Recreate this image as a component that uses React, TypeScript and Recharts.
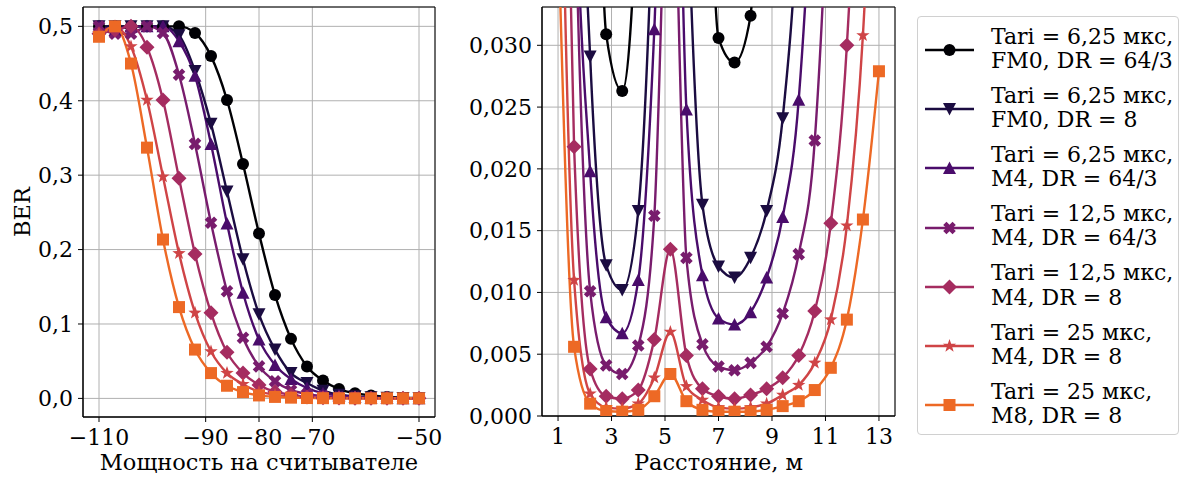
import React from "react";
import {
  LineChart,
  Line,
  XAxis,
  YAxis,
  CartesianGrid,
  ReferenceArea
} from "recharts";

const FONT = "'DejaVu Serif', serif";

// series: legend text, colour (inferno), marker
const seriesLabels = [
  ["Tari = 6,25 мкс,", "FM0, DR = 64/3"],
  ["Tari = 6,25 мкс,", "FM0, DR = 8"],
  ["Tari = 6,25 мкс,", "M4, DR = 64/3"],
  ["Tari = 12,5 мкс,", "M4, DR = 64/3"],
  ["Tari = 12,5 мкс,", "M4, DR = 8"],
  ["Tari = 25 мкс,", "M4, DR = 8"],
  ["Tari = 25 мкс,", "M8, DR = 8"]
];
const seriesColors = ["#000004", "#1b0c41", "#4a0c6b", "#781c6d", "#a52c60", "#cf4446", "#ed6925"];
const seriesMarkers = ["circle", "triDown", "triUp", "cross", "diamond", "star", "square"];
const seriesKeys = ["s1", "s2", "s3", "s4", "s5", "s6", "s7"];

// left panel: BER vs reader power
const powerDbm = [-110, -107, -104, -101, -98, -95, -92, -89, -86, -83, -80, -77, -74, -71, -68, -65, -62, -59, -56, -53, -50];
const berPowS1 = [0.5, 0.5, 0.5, 0.5, 0.5, 0.5, 0.491, 0.46, 0.401, 0.315, 0.2215, 0.139, 0.08, 0.043, 0.024, 0.0126, 0.007, 0.004, 0.002, 0.001, 0.0005];
const berPowS2 = [0.5, 0.5, 0.5, 0.5, 0.5, 0.488, 0.44, 0.369, 0.278, 0.187, 0.113, 0.0656, 0.034, 0.0207, 0.0104, 0.005, 0.003, 0.0015, 0.001, 0.0005, 0.0003];
const berPowS3 = [0.5, 0.495, 0.5, 0.5, 0.5, 0.48, 0.4335, 0.342, 0.235, 0.142, 0.079, 0.045, 0.026, 0.014, 0.007, 0.004, 0.002, 0.001, 0.0005, 0.0003, 0.0002];
const berPowS4 = [0.5, 0.49, 0.49, 0.5, 0.491, 0.435, 0.342, 0.236, 0.144, 0.0814, 0.043, 0.023, 0.011, 0.006, 0.003, 0.0015, 0.001, 0.0005, 0.0003, 0.0002, 0.0001];
const berPowS5 = [0.49, 0.495, 0.5, 0.472, 0.401, 0.296, 0.194, 0.115, 0.062, 0.034, 0.018, 0.009, 0.005, 0.002, 0.001, 0.0005, 0.0003, 0.0002, 0.0001, 0.0001, 0.0001];
const berPowS6 = [0.49, 0.5, 0.473, 0.401, 0.298, 0.195, 0.115, 0.063, 0.034, 0.019, 0.009, 0.005, 0.002, 0.001, 0.0005, 0.0003, 0.0002, 0.0001, 0.0001, 0.0001, 0.0001];
const berPowS7 = [0.486, 0.5, 0.45, 0.337, 0.2135, 0.1227, 0.0656, 0.034, 0.017, 0.0085, 0.004, 0.002, 0.001, 0.0005, 0.0003, 0.0002, 0.0001, 0.0001, 0.0001, 0.0001, 0.0001];
const powerTicks = [-110, -90, -80, -70, -50];
const berTicks = [0, 0.1, 0.2, 0.3, 0.4, 0.5];

// right panel: BER vs distance
const distanceM = [1, 1.6, 2.2, 2.8, 3.4, 4, 4.6, 5.2, 5.8, 6.4, 7, 7.6, 8.2, 8.8, 9.4, 10, 10.6, 11.2, 11.8, 12.4, 13];
const berDistS1 = [0.3, 0.2, 0.09, 0.0309, 0.0263, 0.045, 0.12, 0.2, 0.12, 0.07, 0.0306, 0.0286, 0.0324, 0.08, 0.12, 0.2, 0.3, 0.4, 0.5, 0.6, 0.7];
const berDistS2 = [0.2, 0.07, 0.0291, 0.0122, 0.0102, 0.0166, 0.045, 0.1, 0.045, 0.0171, 0.0121, 0.0112, 0.0128, 0.0166, 0.0241, 0.042, 0.08, 0.15, 0.25, 0.35, 0.45];
const berDistS3 = [0.15, 0.05, 0.0198, 0.008, 0.0067, 0.011, 0.0313, 0.07, 0.0248, 0.0114, 0.0079, 0.0074, 0.0084, 0.0112, 0.0161, 0.0256, 0.05, 0.1, 0.2, 0.3, 0.4];
const berDistS4 = [0.12, 0.045, 0.0101, 0.0041, 0.0034, 0.0057, 0.0162, 0.05, 0.0128, 0.0058, 0.004, 0.0037, 0.0043, 0.0056, 0.0083, 0.0131, 0.0223, 0.05, 0.1, 0.2, 0.3];
const berDistS5 = [0.08, 0.0218, 0.0038, 0.0016, 0.0014, 0.0021, 0.0062, 0.0135, 0.0049, 0.0022, 0.0016, 0.0014, 0.0017, 0.0022, 0.0031, 0.0049, 0.0085, 0.0156, 0.03, 0.06, 0.12];
const berDistS6 = [0.06, 0.011, 0.0018, 0.0007, 0.0006, 0.001, 0.0031, 0.0068, 0.0024, 0.0013, 0.0007, 0.0006, 0.0007, 0.001, 0.0017, 0.0025, 0.0043, 0.0078, 0.0154, 0.0308, 0.06];
const berDistS7 = [0.04, 0.0056, 0.001, 0.0004, 0.00035, 0.0005, 0.0016, 0.0034, 0.0012, 0.0005, 0.00035, 0.00035, 0.00035, 0.0005, 0.0008, 0.0012, 0.0021, 0.0039, 0.0078, 0.0159, 0.0279];
const distTicks = [1, 3, 5, 7, 9, 11, 13];
const berDistTicks = [0, 0.005, 0.01, 0.015, 0.02, 0.025, 0.03];

const powSeries = [berPowS1, berPowS2, berPowS3, berPowS4, berPowS5, berPowS6, berPowS7];
const distSeries = [berDistS1, berDistS2, berDistS3, berDistS4, berDistS5, berDistS6, berDistS7];

const powerTable = powerDbm.map((x, i) => {
  const row: any = { x };
  seriesKeys.forEach((k, j) => (row[k] = powSeries[j][i]));
  return row;
});
const distTable = distanceM.map((x, i) => {
  const row: any = { x };
  seriesKeys.forEach((k, j) => (row[k] = distSeries[j][i]));
  return row;
});

function Marker({ shape, cx, cy, color }: any) {
  if (cx == null || cy == null) return null;
  if (shape === "circle") return <circle cx={cx} cy={cy} r={6} fill={color} />;
  if (shape === "square") return <rect x={cx - 6} y={cy - 6} width={12} height={12} fill={color} />;
  if (shape === "diamond")
    return <polygon points={`${cx - 7.5},${cy} ${cx},${cy - 7.5} ${cx + 7.5},${cy} ${cx},${cy + 7.5}`} fill={color} />;
  if (shape === "triDown")
    return <polygon points={`${cx - 6.5},${cy - 6} ${cx + 6.5},${cy - 6} ${cx},${cy + 6.5}`} fill={color} />;
  if (shape === "triUp")
    return <polygon points={`${cx - 6.5},${cy + 6} ${cx + 6.5},${cy + 6} ${cx},${cy - 6.5}`} fill={color} />;
  if (shape === "star") {
    const pts: string[] = [];
    for (let i = 0; i < 10; i++) {
      const r = i % 2 === 0 ? 7 : 2.8;
      const a = -Math.PI / 2 + (i * Math.PI) / 5;
      pts.push(`${cx + r * Math.cos(a)},${cy + r * Math.sin(a)}`);
    }
    return <polygon points={pts.join(" ")} fill={color} />;
  }
  // filled "X"
  const s = 6.6;
  const a = 2.3;
  const base = [
    [-a, -s], [a, -s], [a, -a], [s, -a], [s, a], [a, a],
    [a, s], [-a, s], [-a, a], [-s, a], [-s, -a], [-a, -a]
  ];
  const c = Math.SQRT1_2;
  const pts = base.map(([px, py]) => `${cx + (px - py) * c},${cy + (px + py) * c}`);
  return <polygon points={pts.join(" ")} fill={color} />;
}

const tickStyle = { fill: "#000", fontSize: 22, fontFamily: FONT };
const labelStyle = { fill: "#000", fontSize: 22.5, fontFamily: FONT };

const comma = (digits: number) => (v: number) => v.toFixed(digits).replace(".", ",");
const minus = (v: number) => String(v).replace("-", "\u2212");

function seriesLines() {
  return seriesKeys.map((k, j) => (
    <Line
      key={k}
      dataKey={k}
      type="monotone"
      stroke={seriesColors[j]}
      strokeWidth={2.4}
      isAnimationActive={false}
      activeDot={false}
      dot={(p: any) => (
        <Marker key={`${k}-${p.index}`} shape={seriesMarkers[j]} cx={p.cx} cy={p.cy} color={seriesColors[j]} />
      )}
    />
  ));
}

function Legend() {
  return (
    <div
      style={{
        position: "absolute",
        left: 917,
        top: 16,
        width: 260,
        height: 417,
        border: "1px solid #d0d0d0",
        borderRadius: 4,
        background: "#fff"
      }}
    >
      {seriesLabels.map((lines, i) => {
        const cy = 33 + i * 59.2;
        return (
          <div key={i}>
            <svg style={{ position: "absolute", left: 6, top: cy - 10 }} width={52} height={20}>
              <line x1={1} y1={10} x2={50} y2={10} stroke={seriesColors[i]} strokeWidth={2.4} />
              <Marker shape={seriesMarkers[i]} cx={25.5} cy={10} color={seriesColors[i]} />
            </svg>
            <div
              style={{
                position: "absolute",
                left: 73,
                top: cy - 25.5,
                fontFamily: FONT,
                fontSize: 22,
                lineHeight: "24.3px",
                whiteSpace: "nowrap",
                color: "#000"
              }}
            >
              {lines[0]}
              <br />
              {lines[1]}
            </div>
          </div>
        );
      })}
    </div>
  );
}

export default function App() {
  return (
    <div style={{ position: "absolute", left: 0, top: 0, width: 1182, height: 477, background: "#fff" }}>
      <div style={{ position: "absolute", left: 0, top: 0 }}>
        <LineChart width={458} height={477} data={powerTable} margin={{ top: 7, right: 23, left: 0, bottom: 0 }}>
          <CartesianGrid stroke="#b0b0b0" strokeWidth={1} />
          <XAxis
            dataKey="x"
            type="number"
            domain={[-113, -47]}
            ticks={powerTicks}
            tickFormatter={minus}
            height={60}
            tick={tickStyle}
            tickSize={5}
            tickMargin={7}
            axisLine={{ stroke: "#000" }}
            tickLine={{ stroke: "#000" }}
            label={{ value: "Мощность на считывателе", position: "insideBottom", offset: 7, style: labelStyle }}
          />
          <YAxis
            type="number"
            domain={[-0.025, 0.526]}
            ticks={berTicks}
            tickFormatter={comma(1)}
            width={83}
            tick={tickStyle}
            tickSize={5}
            tickMargin={5}
            allowDataOverflow
            axisLine={{ stroke: "#000" }}
            tickLine={{ stroke: "#000" }}
            label={{
              value: "BER",
              angle: -90,
              position: "insideLeft",
              offset: 22,
              style: { ...labelStyle, textAnchor: "middle" }
            }}
          />
          {seriesLines()}
          <ReferenceArea x1={-113} x2={-47} y1={-0.025} y2={0.526} fill="none" stroke="#000" strokeWidth={1} />
        </LineChart>
      </div>
      <div style={{ position: "absolute", left: 460, top: 0 }}>
        <LineChart width={452} height={477} data={distTable} margin={{ top: 7, right: 17, left: 0, bottom: 0 }}>
          <CartesianGrid stroke="#b0b0b0" strokeWidth={1} />
          <XAxis
            dataKey="x"
            type="number"
            domain={[0.4, 13.6]}
            ticks={distTicks}
            height={61}
            tick={tickStyle}
            tickSize={5}
            tickMargin={7}
            axisLine={{ stroke: "#000" }}
            tickLine={{ stroke: "#000" }}
            label={{ value: "Расстояние, м", position: "insideBottom", offset: 7, style: labelStyle }}
          />
          <YAxis
            type="number"
            domain={[0, 0.0331]}
            ticks={berDistTicks}
            tickFormatter={comma(3)}
            width={82}
            tick={tickStyle}
            tickSize={5}
            tickMargin={5}
            allowDataOverflow
            axisLine={{ stroke: "#000" }}
            tickLine={{ stroke: "#000" }}
          />
          {seriesLines()}
          <ReferenceArea x1={0.4} x2={13.6} y1={0} y2={0.0331} fill="none" stroke="#000" strokeWidth={1} />
        </LineChart>
      </div>
      <Legend />
    </div>
  );
}
